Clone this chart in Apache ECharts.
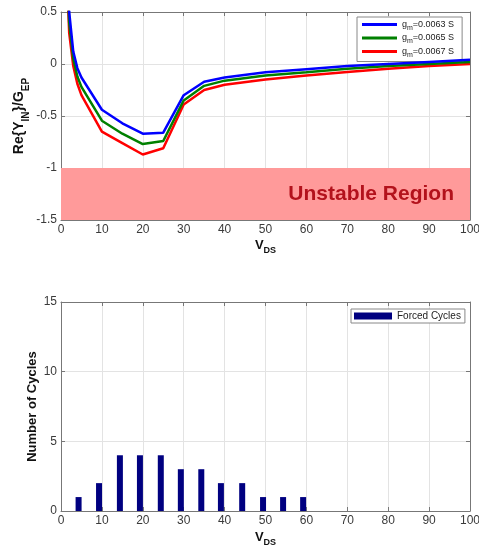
<!DOCTYPE html>
<html><head><meta charset="utf-8">
<script src="https://cdn.jsdelivr.net/npm/echarts@6/dist/echarts.min.js"></script>
<style>html,body{margin:0;padding:0;background:#fff}#c{width:479px;height:553px}</style>
</head><body><div id="c"></div>
<script>
var vds = [1, 2, 3, 4, 5, 10, 15, 20, 25, 30, 35, 40, 50, 60, 70, 80, 90, 100];
var gm0063 = [1.5, 0.5, 0.12, -0.04, -0.13, -0.44, -0.57, -0.67, -0.66, -0.30, -0.17, -0.13, -0.08, -0.05, -0.02, 0.0, 0.02, 0.04];
var gm0065 = [1.4, 0.4, 0.05, -0.12, -0.22, -0.545, -0.67, -0.77, -0.74, -0.35, -0.21, -0.16, -0.11, -0.08, -0.045, -0.02, 0.0, 0.02];
var gm0067 = [1.3, 0.3, -0.02, -0.19, -0.30, -0.65, -0.76, -0.87, -0.81, -0.39, -0.25, -0.20, -0.15, -0.11, -0.077, -0.045, -0.02, 0.0];
var barVds = [4.3, 9.3, 14.4, 19.3, 24.4, 29.3, 34.3, 39.1, 44.3, 49.4, 54.3, 59.2];
var cycles = [1, 2, 4, 4, 4, 3, 3, 2, 2, 1, 1, 1];
var xTicks = {min: 0, max: 100, interval: 10};
var yTop = {min: -1.5, max: 0.5, interval: 0.5};
var yBot = {min: 0, max: 15, interval: 5};
var unstable = [-1, -1.5];

function pairs(xs, ys) { return xs.map(function (x, i) { return [x, ys[i]]; }); }

var FONT = 'Liberation Sans';
var AX = '#777';
var lbl = {color: '#3a3a3a', fontSize: 12, fontFamily: FONT};
var rich = {
  b: {fontSize: 13, fontWeight: 'bold', color: '#111', fontFamily: FONT, lineHeight: 20, verticalAlign: 'middle'},
  s: {fontSize: 9, fontWeight: 'bold', color: '#111', fontFamily: FONT, verticalAlign: 'bottom'}
};
var richY = {
  s: {fontSize: 10, fontWeight: 'bold', color: '#111', fontFamily: FONT, verticalAlign: 'bottom'}
};
var legRich = {
  a: {fontSize: 9, color: '#222', fontFamily: FONT, lineHeight: 14, verticalAlign: 'middle'},
  m: {fontSize: 7, color: '#222', fontFamily: FONT, verticalAlign: 'bottom'}
};
function baseX(grid, name, gap, show) {
  return {
    type: 'value', gridIndex: grid, min: xTicks.min, max: xTicks.max, interval: xTicks.interval,
    position: show ? 'bottom' : 'top',
    axisLine: {show: true, onZero: false, lineStyle: {color: AX}},
    axisTick: {show: true, inside: true, length: 4, lineStyle: {color: AX}},
    axisLabel: show ? Object.assign({margin: 4}, lbl) : {show: false},
    splitLine: {show: show, lineStyle: {color: '#e3e3e3'}},
    name: show ? name : '', nameLocation: 'middle', nameGap: gap, nameMoveOverlap: false,
    nameTextStyle: {rich: rich}
  };
}
function baseY(grid, yr, name, gap, show, nameStyle) {
  return {
    type: 'value', gridIndex: grid, min: yr.min, max: yr.max, interval: yr.interval,
    position: show ? 'left' : 'right',
    axisLine: {show: true, onZero: false, lineStyle: {color: AX}},
    axisTick: {show: true, inside: true, length: 4, lineStyle: {color: AX}},
    axisLabel: show ? Object.assign({margin: 4}, lbl) : {show: false},
    splitLine: {show: show, lineStyle: {color: '#e3e3e3'}},
    name: show ? name : '', nameLocation: 'middle', nameGap: gap, nameMoveOverlap: false,
    nameTextStyle: nameStyle
  };
}

var chart = echarts.init(document.getElementById('c'), null, {renderer: 'canvas'});
chart.setOption({
  animation: false,
  backgroundColor: '#fff',
  grid: [
    {left: 61, top: 12, width: 409, height: 208, outerBoundsMode: 'none', containLabel: false},
    {left: 61, top: 302, width: 409, height: 209, outerBoundsMode: 'none', containLabel: false}
  ],
  xAxis: [
    baseX(0, '{b|V}{s|DS}', 15, true),
    baseX(0, '', 0, false),
    baseX(1, '{b|V}{s|DS}', 16, true),
    baseX(1, '', 0, false)
  ],
  yAxis: [
    baseY(0, yTop, 'Re{Y{s|IN}}/G{s|EP}', 30, true,
      {fontSize: 14, fontWeight: 'bold', color: '#111', fontFamily: FONT, lineHeight: 24, rich: richY}),
    baseY(0, yTop, '', 0, false, {}),
    baseY(1, yBot, 'Number of Cycles', 22, true, {fontSize: 13, fontWeight: 'bold', color: '#111', fontFamily: FONT}),
    baseY(1, yBot, '', 0, false, {})
  ],
  legend: [
    {
      data: ['gm=0.0063 S', 'gm=0.0065 S', 'gm=0.0067 S'],
      orient: 'vertical', left: 357, top: 17, padding: [3, 8, 3, 5], itemGap: 2,
      icon: 'rect', itemWidth: 35, itemHeight: 3,
      backgroundColor: '#fff', borderColor: '#888', borderWidth: 1, borderRadius: 0,
      formatter: function (n) { return '{a|g}{m|m}{a|' + n.slice(2) + '}'; },
      textStyle: {rich: legRich}
    },
    {
      data: ['Forced Cycles'],
      left: 351, top: 309, padding: [2, 4, 2, 3], icon: 'rect', itemWidth: 38, itemHeight: 7, itemGap: 4,
      backgroundColor: '#fff', borderColor: '#888', borderWidth: 1, borderRadius: 0,
      textStyle: {fontSize: 10, color: '#222', fontFamily: FONT}
    }
  ],
  series: [
    {
      name: 'gm=0.0063 S', type: 'line', xAxisIndex: 0, yAxisIndex: 0, data: pairs(vds, gm0063),
      symbol: 'none', lineStyle: {color: '#0000ff', width: 2.5}, itemStyle: {color: '#0000ff'}, z: 5,
      markArea: {
        silent: true,
        itemStyle: {color: '#ff9a9a', opacity: 1},
        label: {show: true, position: 'insideRight', distance: 16, color: '#b3121c', fontSize: 21, fontWeight: 'bold', fontFamily: FONT},
        data: [[{yAxis: unstable[0], name: 'Unstable Region'}, {yAxis: unstable[1]}]]
      }
    },
    {
      name: 'gm=0.0065 S', type: 'line', xAxisIndex: 0, yAxisIndex: 0, data: pairs(vds, gm0065),
      symbol: 'none', lineStyle: {color: '#008000', width: 2.5}, itemStyle: {color: '#008000'}, z: 4
    },
    {
      name: 'gm=0.0067 S', type: 'line', xAxisIndex: 0, yAxisIndex: 0, data: pairs(vds, gm0067),
      symbol: 'none', lineStyle: {color: '#ff0000', width: 2.5}, itemStyle: {color: '#ff0000'}, z: 3
    },
    {
      name: 'Forced Cycles', type: 'bar', xAxisIndex: 2, yAxisIndex: 2, data: pairs(barVds, cycles),
      barWidth: 6, itemStyle: {color: '#000080'}
    }
  ]
});
</script></body></html>
